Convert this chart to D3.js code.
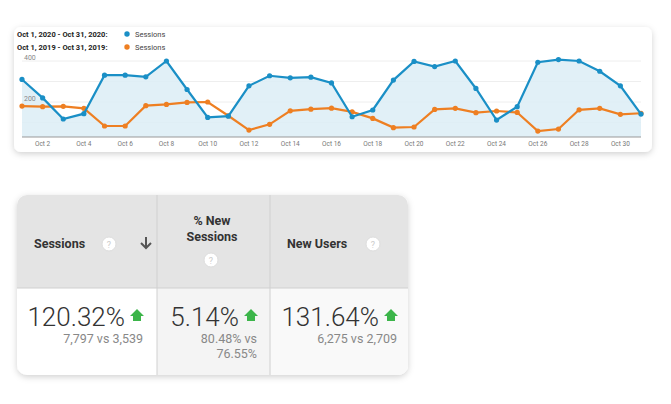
<!DOCTYPE html>
<html><head><meta charset="utf-8">
<script src="https://cdn.jsdelivr.net/npm/d3@7"></script>
<style>body{margin:0;background:#fff;font-family:Roboto,Arial,sans-serif}</style>
</head><body>
<svg id="chart" width="671" height="404"></svg>
<script>
const days = d3.range(1, 32);
const sessions2020 = [310,220,117,143,331,331,323,400,261,125,131,279,328,318,321,293,128,161,307,398,373,400,266,112,177,394,407,400,350,279,141];
const sessions2019 = [180,177,179,169,83,83,182,188,198,200,133,63,91,157,165,170,152,120,75,78,164,169,148,156,149,58,68,162,169,140,145];
const yTicks = [200, 400];
const tableHeaders = [["Sessions"], ["% New", "Sessions"], ["New Users"]];
const tableMain = ["120.32%", "5.14%", "131.64%"];
const tableSub = [["7,797 vs 3,539"], ["80.48% vs", "76.55%"], ["6,275 vs 2,709"]];

const svg = d3.select("#chart");
const defs = svg.append("defs");
const f = defs.append("filter").attr("id", "sh").attr("x", "-10%").attr("y", "-10%").attr("width", "120%").attr("height", "130%");
f.append("feDropShadow").attr("dx", 0).attr("dy", 2).attr("stdDeviation", 3).attr("flood-color", "#000").attr("flood-opacity", 0.18);

// top chart card
svg.append("rect").attr("x", 14).attr("y", 27).attr("width", 638).attr("height", 125).attr("rx", 7)
  .attr("fill", "#fff").attr("filter", "url(#sh)");

const x = d3.scaleLinear().domain([1, 31]).range([22, 641]);
const y = d3.scaleLinear().domain([0, 400]).range([143, 61]);
const base = 137;

svg.append("g").selectAll("line").data([100, 200, 300, 400]).join("line")
  .attr("x1", 22).attr("x2", 641).attr("y1", d => y(d)).attr("y2", d => y(d))
  .attr("stroke", "#eee");

svg.append("path").datum(sessions2020)
  .attr("d", d3.area().x((d, i) => x(days[i])).y0(base).y1(d => y(d)))
  .attr("fill", "#dcedf6").attr("opacity", 0.85);
svg.append("line").attr("x1", 22).attr("x2", 641).attr("y1", base).attr("y2", base).attr("stroke", "#999").attr("stroke-width", 1);
svg.append("g").selectAll("text").data(yTicks).join("text")
  .attr("x", 24).attr("y", d => y(d) - 1).attr("font-size", 7).attr("fill", "#888").text(d => d);

svg.append("g").selectAll("text").data(days.filter(d => d % 2 === 0)).join("text")
  .attr("x", d => x(d)).attr("y", 146).attr("text-anchor", "middle")
  .attr("font-size", 6.5).attr("fill", "#777").text(d => "Oct " + d);

function series(data, color) {
  svg.append("path").datum(data)
    .attr("d", d3.line().x((d, i) => x(days[i])).y(d => y(d)))
    .attr("fill", "none").attr("stroke", color).attr("stroke-width", 2.2);
  svg.append("g").selectAll("circle").data(data).join("circle")
    .attr("cx", (d, i) => x(days[i])).attr("cy", d => y(d)).attr("r", 2.6).attr("fill", color);
}
series(sessions2019, "#ee7f22");
series(sessions2020, "#1a8fc6");

// legend
[["Oct 1, 2020 - Oct 31, 2020:", "#1a8fc6", 34], ["Oct 1, 2019 - Oct 31, 2019:", "#ee7f22", 47]].forEach(([t, c, yy]) => {
  svg.append("text").attr("x", 17).attr("y", yy + 3).attr("font-size", 7.5).attr("font-weight", "bold").attr("fill", "#222").text(t);
  svg.append("circle").attr("cx", 127).attr("cy", yy).attr("r", 2.7).attr("fill", c);
  svg.append("text").attr("x", 135).attr("y", yy + 3).attr("font-size", 7.5).attr("fill", "#444").text("Sessions");
});

// table card
const cols = [17, 157, 270, 408];
const tTop = 195, tMid = 288, tBot = 375;
const clip = defs.append("clipPath").attr("id", "cc");
clip.append("rect").attr("x", 17).attr("y", tTop).attr("width", 391).attr("height", tBot - tTop).attr("rx", 10);
svg.append("rect").attr("x", 17).attr("y", tTop).attr("width", 391).attr("height", tBot - tTop).attr("rx", 10)
  .attr("fill", "#fff").attr("filter", "url(#sh)");
const tg = svg.append("g").attr("clip-path", "url(#cc)");
tg.append("rect").attr("x", 17).attr("y", tTop).attr("width", 391).attr("height", tMid - tTop).attr("fill", "#e4e4e4");
tg.append("rect").attr("x", cols[1]).attr("y", tMid).attr("width", cols[2] - cols[1]).attr("height", tBot - tMid).attr("fill", "#f4f4f4");
tg.append("rect").attr("x", cols[2]).attr("y", tMid).attr("width", cols[3] - cols[2]).attr("height", tBot - tMid).attr("fill", "#f9f9f9");
tg.append("line").attr("x1", 17).attr("x2", 408).attr("y1", tMid).attr("y2", tMid).attr("stroke", "#d0d0d0");
[cols[1], cols[2]].forEach(cx => tg.append("line").attr("x1", cx).attr("x2", cx).attr("y1", tTop).attr("y2", tBot).attr("stroke", "#d0d0d0"));

function qmark(cx, cy) {
  svg.append("circle").attr("cx", cx).attr("cy", cy).attr("r", 7).attr("fill", "#fff").attr("stroke", "#ddd");
  svg.append("text").attr("x", cx).attr("y", cy + 3.5).attr("text-anchor", "middle").attr("font-size", 9).attr("fill", "#ccc").text("?");
}
const hs = { size: 12.5, w: "bold", c: "#333" };
svg.append("text").attr("x", 34).attr("y", 248).attr("font-size", hs.size).attr("font-weight", hs.w).attr("fill", hs.c).text(tableHeaders[0][0]);
qmark(109, 244);
svg.append("path").attr("d", "M146,237 L146,248 M141,243 L146,248 L151,243").attr("fill", "none").attr("stroke", "#555").attr("stroke-width", 2);
tableHeaders[1].forEach((t, i) => svg.append("text").attr("x", 212).attr("y", 225 + i * 16).attr("text-anchor", "middle")
  .attr("font-size", hs.size).attr("font-weight", hs.w).attr("fill", hs.c).text(t));
qmark(211, 260);
svg.append("text").attr("x", 287).attr("y", 248).attr("font-size", hs.size).attr("font-weight", hs.w).attr("fill", hs.c).text(tableHeaders[2][0]);
qmark(373, 244);

const rightEdge = [143, 257, 397];
function arrow(cx, cy) {
  svg.append("path").attr("d", `M${cx - 7},${cy} L${cx},${cy - 7} L${cx + 7},${cy} L${cx + 4},${cy} L${cx + 4},${cy + 5} L${cx - 4},${cy + 5} L${cx - 4},${cy} Z`).attr("fill", "#3cb54a");
}
tableMain.forEach((t, i) => {
  svg.append("text").attr("x", rightEdge[i] - 18).attr("y", 326).attr("text-anchor", "end")
    .attr("font-size", 26).attr("font-weight", 300).attr("fill", "#333").text(t);
  arrow(rightEdge[i] - 6, 316);
  tableSub[i].forEach((s, j) => svg.append("text").attr("x", rightEdge[i]).attr("y", 343 + j * 15).attr("text-anchor", "end")
    .attr("font-size", 12.5).attr("fill", "#888").text(s));
});
</script>
</body></html>
